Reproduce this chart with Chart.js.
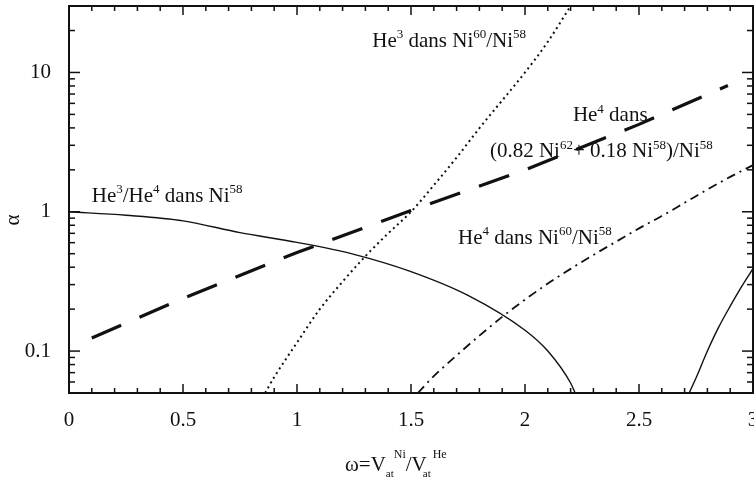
<!DOCTYPE html>
<html>
<head>
<meta charset="utf-8">
<script src="https://cdn.jsdelivr.net/npm/chart.js@4.4.0/dist/chart.umd.min.js"></script>
<style>
  html, body { margin: 0; padding: 0; background: #fff; }
</style>
</head>
<body>
<canvas id="myChart" width="754" height="481"></canvas>
<script>
const xTicks = [0, 0.5, 1, 1.5, 2, 2.5, 3];
const yTicks = [0.1, 1, 10];

// He3/He4 dans Ni58 (solid, two branches)
const ratioX = [0, 0.25, 0.5, 0.75, 1.0, 1.25, 1.5, 1.75, 2.0, 2.1, 2.2, 2.22];
const ratioY = [1.0, 0.944, 0.861, 0.708, 0.603, 0.495, 0.372, 0.251, 0.141, 0.10, 0.059, 0.05];
const ratio2X = [2.72, 2.75, 2.8, 2.85, 2.9, 2.95, 3.0];
const ratio2Y = [0.05, 0.064, 0.10, 0.149, 0.21, 0.29, 0.39];

// He3 dans Ni60/Ni58 (dotted)
const he3X = [0.86, 0.9, 1.0, 1.1, 1.2, 1.3, 1.4, 1.5, 1.6, 1.7, 1.8, 1.9, 2.0, 2.1, 2.2];
const he3Y = [0.05, 0.065, 0.115, 0.20, 0.315, 0.48, 0.70, 1.0, 1.55, 2.45, 3.98, 6.3, 10, 16.6, 30];

// He4 dans (0.82 Ni62 + 0.18 Ni58)/Ni58 (long dashes)
const mixX = [0.1, 0.5, 1.0, 1.5, 2.0, 2.5, 2.89];
const mixY = [0.124, 0.239, 0.51, 1.02, 2.0, 4.24, 8.07];

// He4 dans Ni60/Ni58 (dash-dot)
const he4X = [1.53, 1.6, 1.7, 1.8, 1.9, 2.0, 2.1, 2.2, 2.3, 2.4, 2.5, 2.6, 2.7, 2.8, 2.9, 3.0];
const he4Y = [0.05, 0.066, 0.093, 0.129, 0.176, 0.234, 0.305, 0.389, 0.49, 0.61, 0.76, 0.933, 1.16, 1.445, 1.78, 2.16];

const INK = '#111';
const SERIF = '"Liberation Serif", "DejaVu Serif", serif';

const pts = (xs, ys) => xs.map((x, i) => ({ x: x, y: ys[i] }));

// curve labels, anchored at data coordinates (left edge, baseline)
// parts: [text, ''|'^'|'_']
const notes = [
  { x: 0.10, y: 1.18, parts: [['He', ''], ['3', '^'], ['/He', ''], ['4', '^'], [' dans Ni', ''], ['58', '^']] },
  { x: 1.33, y: 15.3, parts: [['He', ''], ['3', '^'], [' dans Ni', ''], ['60', '^'], ['/Ni', ''], ['58', '^']] },
  { x: 2.21, y: 4.47, parts: [['He', ''], ['4', '^'], [' dans', '']] },
  { x: 1.846, y: 2.47, parts: [['(0.82 Ni', ''], ['62', '^'], ['+ 0.18 Ni', ''], ['58', '^'], [')/Ni', ''], ['58', '^']] },
  { x: 1.706, y: 0.59, parts: [['He', ''], ['4', '^'], [' dans Ni', ''], ['60', '^'], ['/Ni', ''], ['58', '^']] },
];

function drawRich(ctx, x, y, parts, size) {
  let cx = x;
  for (const [t, k] of parts) {
    const fs = k ? Math.round(size * 0.62) : size;
    const dy = k === '^' ? -size * 0.4 : k === '_' ? size * 0.3 : 0;
    ctx.font = fs + 'px ' + SERIF;
    ctx.fillText(t, cx, y + dy);
    cx += ctx.measureText(t).width;
  }
}

const frame = {
  id: 'frame',
  beforeDatasetsDraw(chart) {
    const { ctx, scales: { x, y } } = chart;
    ctx.save();
    ctx.fillStyle = INK;
    ctx.textBaseline = 'alphabetic';
    ctx.textAlign = 'left';
    for (const n of notes) {
      drawRich(ctx, x.getPixelForValue(n.x), y.getPixelForValue(n.y), n.parts, 21);
    }
    ctx.restore();
  },
  afterDraw(chart) {
    const { ctx, chartArea: a, scales: { x, y } } = chart;
    ctx.save();
    ctx.strokeStyle = INK;
    ctx.lineWidth = 1.5;
    const seg = (x1, y1, x2, y2) => { ctx.beginPath(); ctx.moveTo(x1, y1); ctx.lineTo(x2, y2); ctx.stroke(); };

    // inward ticks every 0.1, longer at 0.5
    for (let i = 0; i <= 30; i++) {
      const px = x.getPixelForValue(i / 10);
      const len = i % 5 === 0 ? 9 : 5;
      seg(px, a.bottom, px, a.bottom - len);
      seg(px, a.top, px, a.top + len);
    }
    // log ticks: decades long, 2..9 short
    for (let e = -2; e <= 1; e++) {
      for (let m = 1; m <= 9; m++) {
        const v = m * Math.pow(10, e);
        if (v < y.min * 0.999 || v > y.max * 1.001) continue;
        const py = y.getPixelForValue(v);
        const len = m === 1 ? 11 : 6;
        seg(a.left, py, a.left + len, py);
        seg(a.right, py, a.right - len, py);
      }
    }

    ctx.lineWidth = 2;
    ctx.strokeRect(a.left, a.top, a.right - a.left, a.bottom - a.top);

    // axis titles
    ctx.fillStyle = INK;
    ctx.textAlign = 'left';
    ctx.textBaseline = 'alphabetic';
    let cx = 345;
    const put = (t, size, base) => {
      ctx.font = size + 'px ' + SERIF;
      ctx.fillText(t, cx, base);
      cx += ctx.measureText(t).width;
    };
    put('\u03c9=V', 21, 471);
    put('at', 11, 477);
    put('Ni', 12, 458);
    put('/V', 21, 471);
    cx -= 4;
    put('at', 11, 477);
    cx += 2;
    put('He', 12, 458);

    ctx.translate(19, 220);
    ctx.rotate(-Math.PI / 2);
    ctx.textAlign = 'center';
    ctx.font = '21px ' + SERIF;
    ctx.fillText('\u03b1', 0, 0);
    ctx.restore();
  }
};

const line = (label, xs, ys, extra) => Object.assign({
  label: label,
  data: pts(xs, ys),
  showLine: true,
  pointRadius: 0,
  borderColor: INK,
  backgroundColor: INK,
  fill: false,
}, extra);

const config = {
  type: 'scatter',
  data: {
    datasets: [
      line('He3/He4 dans Ni58', ratioX, ratioY, { borderWidth: 1.4, cubicInterpolationMode: 'monotone' }),
      line('He3/He4 dans Ni58 (2)', ratio2X, ratio2Y, { borderWidth: 1.4, cubicInterpolationMode: 'monotone' }),
      line('He3 dans Ni60/Ni58', he3X, he3Y, { borderWidth: 2, borderDash: [2, 3.5], cubicInterpolationMode: 'monotone' }),
      line('He4 dans (0.82 Ni62 + 0.18 Ni58)/Ni58', mixX, mixY, { borderWidth: 3.2, borderDash: [32, 20] }),
      line('He4 dans Ni60/Ni58', he4X, he4Y, { borderWidth: 1.8, borderDash: [9, 5, 2, 5], cubicInterpolationMode: 'monotone' }),
    ],
  },
  options: {
    responsive: false,
    animation: false,
    devicePixelRatio: 1,
    layout: { padding: { top: 6, right: 1, left: 0, bottom: 0 } },
    plugins: {
      legend: { display: false },
      tooltip: { enabled: false },
    },
    scales: {
      x: {
        type: 'linear',
        min: 0,
        max: 3,
        grid: { display: false, drawTicks: false },
        border: { display: false },
        ticks: {
          color: INK,
          font: { family: SERIF, size: 21 },
          padding: 15,
          maxRotation: 0,
          autoSkip: false,
          callback: (v) => String(v),
        },
        afterBuildTicks: (scale) => { scale.ticks = xTicks.map(v => ({ value: v })); },
        afterFit: (scale) => { scale.height = 88; scale.paddingLeft = 0; scale.paddingRight = 0; },
      },
      y: {
        type: 'logarithmic',
        min: 0.05,
        max: 30,
        grid: { display: false, drawTicks: false },
        border: { display: false },
        ticks: {
          color: INK,
          font: { family: SERIF, size: 21 },
          padding: 18,
          autoSkip: false,
          callback: (v) => String(v),
        },
        afterBuildTicks: (scale) => { scale.ticks = yTicks.map(v => ({ value: v })); },
        afterFit: (scale) => { scale.width = 69; scale.paddingTop = 0; scale.paddingBottom = 0; },
      },
    },
  },
  plugins: [frame],
};

const myChart = new Chart(document.getElementById('myChart'), config);
</script>
</body>
</html>
